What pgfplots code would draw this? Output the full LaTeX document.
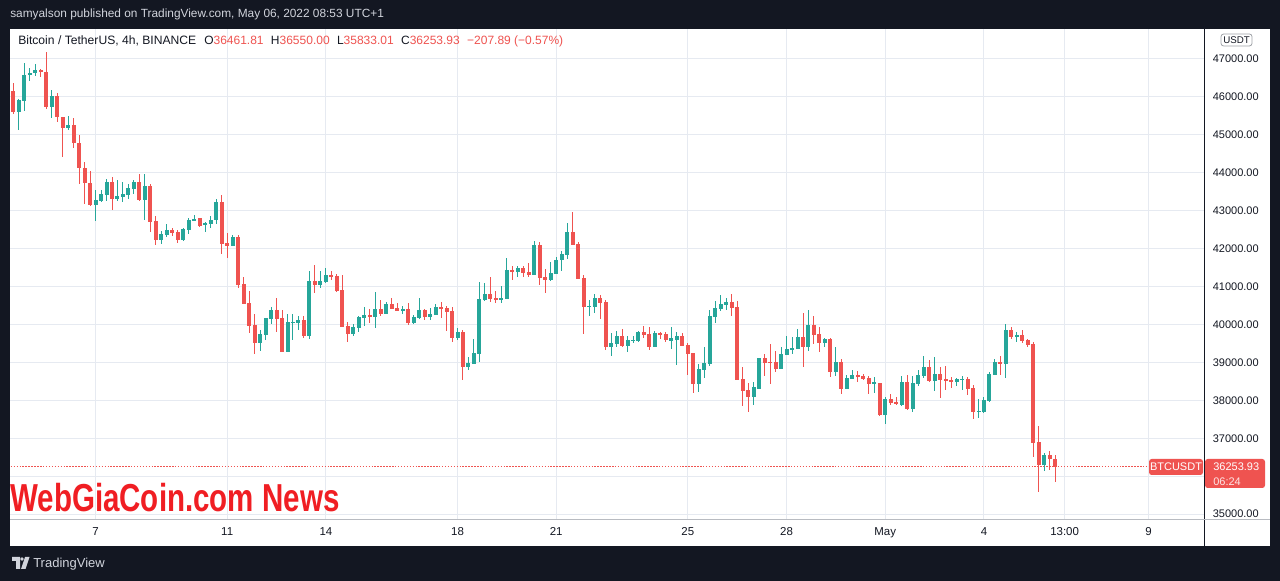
\documentclass[border=0pt]{standalone}
\usepackage{pgfplots}
\pgfplotsset{compat=1.18}
\usepackage{pgfplotstable}
\usepackage{graphicx}
\usepackage{fontspec}
\setmainfont{Liberation Sans}
\definecolor{bg}{HTML}{131722}
\definecolor{tvgreen}{HTML}{26A69A}
\definecolor{tvred}{HTML}{EF5350}
\definecolor{gridc}{HTML}{E6EAF1}
\definecolor{txt}{HTML}{131722}
\definecolor{hdr}{HTML}{D1D4DC}
\definecolor{wm}{HTML}{F01E23}

% up (green) candles: index, open, high, low, close
\pgfplotstableread{
i O H L C
1 45611 45945 45136 45919
2 45901 46894 45637 46578
3 46578 46762 46428 46631
4 46631 46868 46560 46710
7 45743 46182 45453 46024
10 45189 45497 45136 45259
15 43159 43554 42737 43282
16 43264 43545 43220 43440
17 43422 43835 43264 43765
19 43317 43809 43264 43388
20 43361 43757 43221 43440
21 43423 43704 43308 43598
22 43581 43818 43449 43757
24 43291 43968 42755 43651
27 42227 42464 42122 42386
28 42350 42640 42306 42491
31 42227 42535 42192 42517
32 42491 42799 42385 42755
33 42737 42878 42720 42781
35 42610 42693 42447 42675
36 42658 42851 42535 42755
37 42746 43308 42658 43230
40 42077 42350 42068 42306
45 39519 39845 39300 39748
46 39730 40179 39598 40170
47 40143 40460 40011 40381
50 39282 40275 39265 40064
51 40046 40275 39598 40064
52 40046 40223 39862 40117
54 39704 41409 39625 41145
56 41040 41409 40952 41145
57 41128 41488 41084 41303
62 39757 40011 39686 39932
63 39915 40222 39792 40196
64 40170 40460 39967 40249
66 40196 40855 39915 40407
68 40275 40592 40275 40539
71 40363 40486 40284 40416
73 40038 40240 40020 40196
74 40170 40697 40152 40381
76 40205 40434 40109 40276
77 40258 40530 40240 40460
81 39643 39906 39599 39801
83 38887 39142 38808 38984
84 38966 39616 38966 39247
85 39230 41119 39019 40671
86 40645 41093 40627 40803
89 40645 41014 40574 40697
90 40671 41752 40671 41436
92 41383 41541 41251 41489
95 41304 42201 41304 42095
98 41172 41647 41146 41357
99 41330 41779 41330 41700
100 41691 41937 41410 41858
101 41832 42675 41726 42438
105 40469 40645 40223 40487
106 40460 40803 40302 40698
109 39405 39783 39168 39511
110 39484 39827 39405 39695
112 39432 39695 39282 39590
113 39572 39695 39511 39590
114 39563 39827 39537 39801
117 39405 39827 39405 39774
120 39563 39932 39352 39642
121 39581 39801 38930 39695
125 38429 38957 38218 38825
126 38799 39405 38588 38983
127 38957 40381 38904 40222
128 40196 40618 40038 40434
129 40407 40776 40354 40539
130 40513 40697 40381 40592
135 38087 38483 37876 38351
136 38307 39116 38307 39116
140 38826 39406 38826 39221
141 39195 39696 39195 39353
142 39327 39670 39221 39380
143 39353 39881 39353 39670
145 39406 40382 39300 39986
148 39512 39643 39406 39617
150 38737 39405 38649 39010
152 38307 38667 38298 38588
153 38562 38799 38562 38667
157 38456 38614 38192 38474
159 37612 38087 37384 38034
162 37876 38641 37850 38483
164 37771 38641 37691 38456
165 38430 38799 38377 38667
166 38641 39168 38588 38878
168 38509 39141 38245 38693
172 38482 38588 38377 38561
173 38552 38640 38271 38570
176 37700 38034 37533 37718
177 37691 38087 37665 37999
178 37972 38746 37955 38693
179 38667 39089 38667 39010
181 38957 40012 38588 39853
183 39669 39801 39537 39722
188 36293 36610 36135 36557
}\upT

% down (red) candles
\pgfplotstableread{
i O H L C
0 46156 46367 45558 45611
5 46719 46736 46534 46666
6 46666 47184 45672 45743
8 46024 46103 45347 45479
9 45479 45479 44424 45189
11 45259 45435 44662 44794
12 44794 44996 43712 44134
13 44134 44284 43185 43739
14 43739 44047 43123 43159
18 43765 43889 43027 43317
23 43757 43968 43256 43282
25 43651 43695 42438 42711
26 42728 42860 42095 42227
29 42491 42535 42333 42403
30 42438 42491 42157 42227
34 42799 42816 42570 42596
38 43229 43413 41866 42130
39 42148 42411 41761 42077
41 42306 42359 40970 41049
42 41066 41251 40539 40548
43 40565 40882 39783 39968
44 39985 40284 39212 39519
48 40381 40697 39809 40152
49 40170 40381 39265 39282
53 40117 40223 39651 39704
55 41145 41567 40838 41050
58 41303 41409 41163 41251
59 41277 41330 40855 40882
60 40908 41304 39932 39941
61 39959 40064 39546 39757
65 40249 40407 40047 40196
67 40407 40644 40222 40275
69 40539 40697 40407 40407
70 40433 40556 40354 40363
72 40407 40565 39985 40038
75 40381 40407 40117 40205
78 40460 40592 40179 40416
79 40434 40487 39836 40328
80 40355 40451 39537 39643
82 39801 39854 38544 38887
87 40803 41251 40592 40671
88 40697 40882 40566 40645
91 41436 41541 41172 41383
93 41489 41541 41251 41366
94 41383 41620 41251 41304
96 42095 42174 41040 41225
97 41251 41462 40829 41172
102 42438 42965 42095 42095
103 42122 42174 41199 41199
104 41225 41304 39748 40460
107 40698 40777 40144 40566
108 40592 40645 39326 39405
111 39695 39880 39405 39432
115 39801 39959 39642 39722
116 39748 39932 39326 39405
118 39774 39801 39616 39722
119 39748 39801 39537 39590
122 39695 39774 39432 39432
123 39458 39511 38667 39221
124 39247 39247 38192 38429
131 40592 40804 40223 40434
132 40461 40619 38536 38536
133 38562 38878 37850 38246
134 38272 38457 37692 38087
137 39116 39221 38641 38993
138 39010 39485 38430 38993
139 39010 39300 38747 38826
144 39670 40302 38878 39406
146 39986 40223 39485 39722
147 39749 39933 39274 39512
149 39617 39643 38623 38737
151 39010 39089 38175 38307
154 38667 38773 38482 38614
155 38641 38693 38535 38562
156 38588 38641 38166 38430
158 38456 38456 37586 37612
160 38034 38166 37876 37929
161 37955 38087 37876 37902
163 38483 38667 37744 37771
167 38878 39063 38482 38509
169 38693 38878 38069 38535
170 38561 38904 38271 38517
171 38535 38614 38324 38482
174 38561 38614 38139 38298
175 38324 38403 37507 37700
180 39010 39168 38667 38957
182 39853 39933 39616 39669
184 39722 39853 39511 39563
185 39590 39616 39405 39458
186 39484 39537 36504 36874
187 36900 37322 35581 36293
189 36557 36663 36162 36462
190 36461.81 36550.00 35833.01 36253.93
}\dnT

\begin{document}
\begin{tikzpicture}[x=0.75pt,y=0.75pt]
% background and chart pane
\fill[bg] (0,0) rectangle (1280,581);
\fill[white] (10,35) rectangle (1270,552);

\begin{axis}[
  at={(7.5pt,46.5pt)}, anchor=south west,
  scale only axis, width=895.5pt, height=367.5pt,
  xmin=-0.6, xmax=217.12, ymin=34870, ymax=47791,
  axis line style={draw=none},
  major tick length=0pt,
  grid=major,
  major grid style={draw=gridc, line width=0.75pt},
  xtick={15,39,57,81,99,123,141,159,177,191.7,207},
  xticklabels={7,11,14,18,21,25,28,May,4,13:00,9},
  ytick={35000,36000,...,47000},
  yticklabels={35000.00,,37000.00,38000.00,39000.00,40000.00,41000.00,42000.00,43000.00,44000.00,45000.00,46000.00,47000.00},
  scaled y ticks=false,
  yticklabel pos=right,
  ticklabel style={font=\fontsize{8.25pt}{10pt}\selectfont, text=txt, inner sep=0pt},
  yticklabel style={anchor=west, xshift=6.4pt},
  xticklabel style={anchor=base, yshift=-12.5pt, font=\fontsize{8.6pt}{10pt}\selectfont},
  clip=true,
]
% last price line
\addplot[tvred, line width=0.75pt, dash pattern=on 1.1pt off 1.1pt, forget plot]
  coordinates {(-1,36253.93) (218,36253.93)};
% wicks
\addplot[draw=none, mark=none, forget plot, error bars/.cd, y dir=both, y explicit, error mark=none,
  error bar style={draw=tvgreen, line width=0.75pt}]
  table[x=i, y expr={(\thisrow{H}+\thisrow{L})/2}, y error expr={(\thisrow{H}-\thisrow{L})/2}] \upT;
\addplot[draw=none, mark=none, forget plot, error bars/.cd, y dir=both, y explicit, error mark=none,
  error bar style={draw=tvred, line width=0.75pt}]
  table[x=i, y expr={(\thisrow{H}+\thisrow{L})/2}, y error expr={(\thisrow{H}-\thisrow{L})/2}] \dnT;
% bodies
\addplot[draw=none, mark=none, forget plot, error bars/.cd, y dir=both, y explicit, error mark=none,
  error bar style={draw=tvgreen, line width=3pt}]
  table[x=i, y expr={(\thisrow{O}+\thisrow{C})/2}, y error expr={max(abs(\thisrow{C}-\thisrow{O})/2,13)}] \upT;
\addplot[draw=none, mark=none, forget plot, error bars/.cd, y dir=both, y explicit, error mark=none,
  error bar style={draw=tvred, line width=3pt}]
  table[x=i, y expr={(\thisrow{O}+\thisrow{C})/2}, y error expr={max(abs(\thisrow{C}-\thisrow{O})/2,13)}] \dnT;
\end{axis}

% separators
\draw[bg, line width=0.75pt] (1204.5,35) -- (1204.5,552);
\draw[gridc!80!black, line width=0.75pt] (10,61.5) -- (1270,61.5);

% top header
\node[anchor=base west, inner sep=0pt, text=hdr, font=\fontsize{8.9pt}{11pt}\selectfont] at (10,563) {samyalson published on TradingView.com, May 06, 2022 08:53 UTC+1};

% legend line
\node[anchor=base west, inner sep=0pt, text=txt, font=\fontsize{9.1pt}{11pt}\selectfont] at (18,536) {Bitcoin / TetherUS, 4h, BINANCE};
\node[anchor=base west, inner sep=0pt, font=\fontsize{9pt}{11pt}\selectfont] at (204,536)
  {\textcolor{txt}{O}\textcolor{tvred}{36461.81}\hspace{5.5pt}%
   \textcolor{txt}{H}\textcolor{tvred}{36550.00}\hspace{5.5pt}%
   \textcolor{txt}{L}\textcolor{tvred}{35833.01}\hspace{5.5pt}%
   \textcolor{txt}{C}\textcolor{tvred}{36253.93}\hspace{5.5pt}%
   \textcolor{tvred}{−207.89 (−0.57\%)}};

% USDT box
\draw[gridc!70!black, line width=0.6pt, rounded corners=2pt, fill=white] (1221,535) rectangle (1252,547);
\node[text=txt, inner sep=0pt, font=\fontsize{7.3pt}{9pt}\selectfont] at (1236.5,541) {USDT};

% price labels
\fill[tvred, rounded corners=2pt] (1149,106) rectangle (1203,122);
\node[text=white, inner sep=0pt, font=\fontsize{8.25pt}{10pt}\selectfont] at (1176,114) {BTCUSDT};
\fill[tvred, rounded corners=2pt] (1205,93) rectangle (1265,122);
\node[anchor=base west, text=white, inner sep=0pt, font=\fontsize{8.25pt}{10pt}\selectfont] at (1213,110) {36253.93};
\node[anchor=base west, text=white!85!tvred, inner sep=0pt, font=\fontsize{8.25pt}{10pt}\selectfont] at (1213,95.5) {06:24};

% watermark
\node[anchor=base west, inner sep=0pt, text=wm, font=\bfseries\fontsize{29.25pt}{32pt}\selectfont] at (10,69) {\scalebox{0.757}[1]{WebGiaCoin.com News}};

% bottom TradingView logo
\fill[hdr] (12,24) -- (20,24) -- (20,12) -- (16,12) -- (16,20) -- (12,20) -- cycle;
\fill[hdr] (22,22) circle (1.8);
\fill[hdr] (25,24) -- (29.5,24) -- (25.5,12) -- (21,12) -- cycle;
\node[anchor=base west, inner sep=0pt, text=hdr, font=\fontsize{9.75pt}{11pt}\selectfont] at (33,13.5) {TradingView};
\end{tikzpicture}
\end{document}
